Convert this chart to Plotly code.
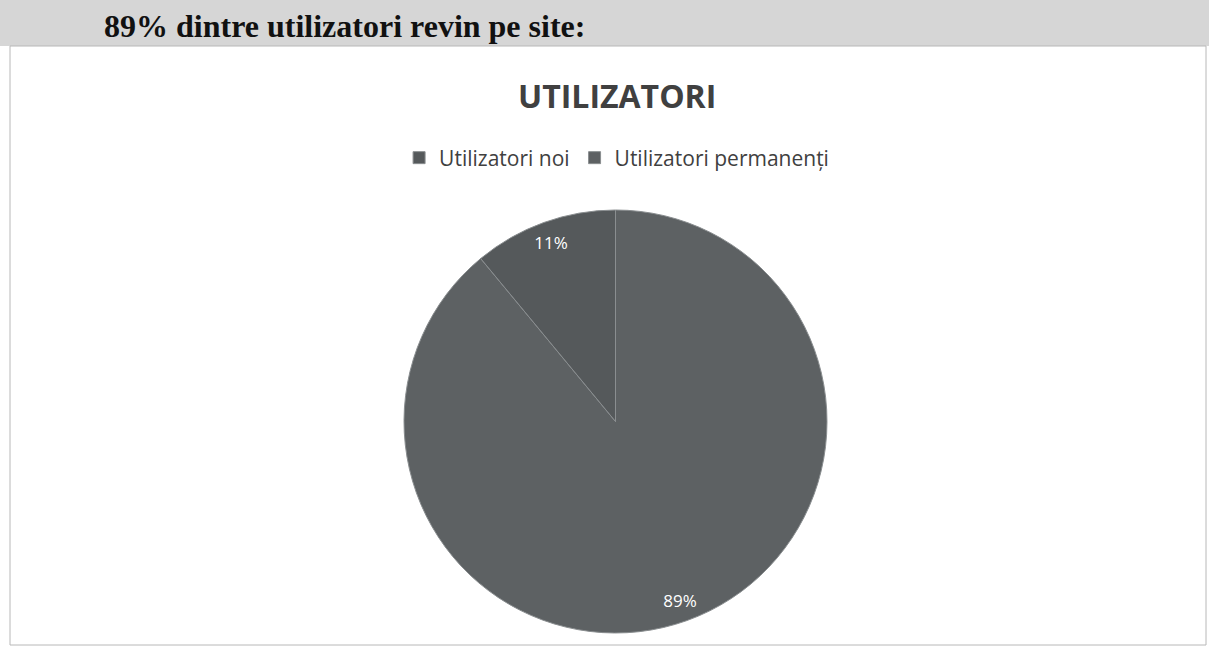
import plotly.graph_objects as go

categories = ["Utilizatori permanenți", "Utilizatori noi"]
values = [89, 11]
colors = ["#5d6163", "#55595b"]

W, H = 1209, 661

def py(y):
    return 1 - y / H

def px(x):
    return x / W

dom = dict(x=[px(404), px(827)], y=[py(633), py(210)])

fig = go.Figure()
fig.add_trace(go.Pie(
    labels=categories,
    values=values,
    marker=dict(colors=colors, line=dict(color="#8a8e90", width=1)),
    textinfo="none",
    direction="clockwise",
    rotation=0,
    sort=False,
    domain=dom,
    showlegend=True,
))
# ring used only to place the percentage labels near the outer edge
fig.add_trace(go.Pie(
    labels=categories,
    values=values,
    hole=0.8,
    marker=dict(colors=["rgba(0,0,0,0)"] * 2, line=dict(width=0)),
    textinfo="percent",
    texttemplate="%{percent:.0%}",
    textposition="inside",
    insidetextorientation="horizontal",
    textfont=dict(color="white", size=17, family="Open Sans"),
    direction="clockwise",
    rotation=0,
    sort=False,
    domain=dom,
    showlegend=False,
    hoverinfo="skip",
))

fig.update_layout(
    width=W, height=H,
    margin=dict(l=0, r=0, t=0, b=0),
    paper_bgcolor="white",
    plot_bgcolor="white",
    showlegend=True,
    legend=dict(
        orientation="h", x=0.51, xanchor="center", y=py(158), yanchor="middle",
        font=dict(family="Open Sans", size=21, color="#404040"),
        traceorder="reversed",
    ),
    shapes=[
        dict(type="rect", xref="paper", yref="paper", x0=0, x1=1, y0=py(46), y1=1,
             fillcolor="#d6d6d6", line=dict(width=0), layer="below"),
        dict(type="rect", xref="paper", yref="paper", x0=px(10), x1=px(1206), y0=py(645), y1=py(46),
             fillcolor="rgba(0,0,0,0)", line=dict(color="#b8b8b8", width=1), layer="below"),
    ],
    annotations=[
        dict(text="<b>89% dintre utilizatori revin pe site:</b>", xref="paper", yref="paper",
             x=px(102), y=py(26), xanchor="left", yanchor="middle", showarrow=False,
             font=dict(family="Liberation Serif", size=32, color="#111111")),
        dict(text="<b>UTILIZATORI</b>", xref="paper", yref="paper",
             x=px(617), y=py(96), xanchor="center", yanchor="middle", showarrow=False,
             font=dict(family="Open Sans", size=32, color="#404040")),
    ],
)

fig.write_html("out.html", config={"displayModeBar": False},
               post_script="document.body.style.margin='0';")
